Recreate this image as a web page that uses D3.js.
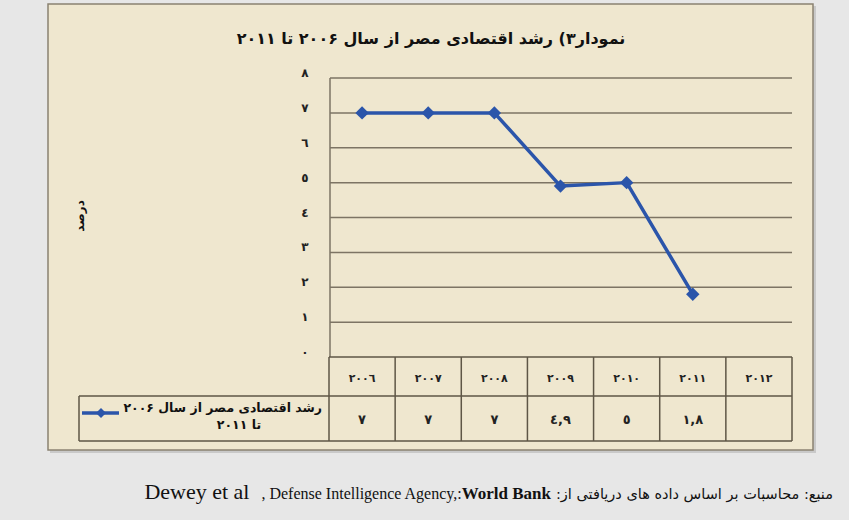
<!DOCTYPE html>
<html>
<head>
  <meta charset="utf-8">
  <title>Egypt growth</title>
  <script src="https://d3js.org/d3.v7.min.js"></script>
  <style>
    body {
      margin: 0;
      padding: 0;
      background-color: #e7e7e7;
    }
    .ar {
      font-family: "DejaVu Sans", sans-serif;
    }
    .grid line {
      stroke: #7d7464;
      stroke-width: 1.5;
    }
  </style>
</head>
<body>
  <div id="chart"></div>

  <script>
    // data
    var years = ["٢٠٠٦", "٢٠٠٧", "٢٠٠٨", "٢٠٠٩", "٢٠١٠", "٢٠١١", "٢٠١٢"];
    var values = [7, 7, 7, 4.9, 5, 1.8];
    var valueLabels = ["٧", "٧", "٧", "٤,٩", "٥", "١,٨", ""];
    var yTicks = [0, 1, 2, 3, 4, 5, 6, 7, 8];
    var yTickLabels = ["٠", "١", "٢", "٣", "٤", "٥", "٦", "٧", "٨"];

    var width = 849, height = 520;
    var blue = "#2b55aa";

    var svg = d3.select("#chart")
      .append("svg")
        .attr("width", width)
        .attr("height", height);

    // chart box
    svg.append("rect")
        .attr("x", 50).attr("y", 6)
        .attr("width", 766).attr("height", 447)
        .attr("fill", "#c9c9c9");
    svg.append("rect")
        .attr("x", 48).attr("y", 4)
        .attr("width", 765).attr("height", 446)
        .attr("fill", "#efe7cf")
        .attr("stroke", "#8b8272")
        .attr("stroke-width", 1.5);

    // title
    svg.append("text")
        .attr("class", "ar")
        .attr("x", 431).attr("y", 44)
        .attr("text-anchor", "middle")
        .attr("direction", "rtl")
        .style("font-size", "16px")
        .style("font-weight", "bold")
        .attr("fill", "#111")
        .text("نمودار۳) رشد اقتصادی مصر از سال ۲۰۰۶ تا ۲۰۱۱");

    var x = d3.scaleBand()
        .domain(years)
        .range([329, 792]);

    var y = d3.scaleLinear()
        .domain([0, 8])
        .range([357, 78]);

    // gridlines
    svg.append("g")
        .attr("class", "grid")
      .selectAll("line")
        .data(yTicks.slice(1))
      .enter().append("line")
        .attr("x1", 330).attr("x2", 792)
        .attr("y1", function(d) { return y(d); })
        .attr("y2", function(d) { return y(d); });

    // left axis line
    svg.append("line")
        .attr("x1", 330).attr("x2", 330)
        .attr("y1", y(8)).attr("y2", y(0))
        .attr("stroke", "#7d7464").attr("stroke-width", 1.5);

    // y tick labels
    svg.append("g")
      .selectAll("text")
        .data(yTicks)
      .enter().append("text")
        .attr("class", "ar")
        .attr("x", 305)
        .attr("y", function(d) { return y(d) - 1; })
        .attr("text-anchor", "middle")
        .style("font-size", "12px")
        .style("font-weight", "bold")
        .attr("fill", "#222")
        .text(function(d, i) { return yTickLabels[i]; });

    // y axis title
    svg.append("text")
        .attr("class", "ar")
        .attr("transform", "translate(80,216) rotate(-90)")
        .attr("text-anchor", "middle")
        .attr("dominant-baseline", "middle")
        .style("font-size", "12px")
        .style("font-weight", "bold")
        .attr("fill", "#111")
        .text("درصد");

    // data table
    var tLine = "#5e5646";
    var rowTop = y(0), rowMid = 396, rowBot = 441;
    var table = svg.append("g");
    table.append("line").attr("x1", 329).attr("x2", 792).attr("y1", rowTop).attr("y2", rowTop);
    table.append("line").attr("x1", 79).attr("x2", 792).attr("y1", rowMid).attr("y2", rowMid);
    table.append("line").attr("x1", 79).attr("x2", 792).attr("y1", rowBot).attr("y2", rowBot);
    table.append("line").attr("x1", 79).attr("x2", 79).attr("y1", rowMid).attr("y2", rowBot);
    table.selectAll(".vline")
        .data(years)
      .enter().append("line")
        .attr("class", "vline")
        .attr("x1", function(d) { return x(d); })
        .attr("x2", function(d) { return x(d); })
        .attr("y1", rowTop).attr("y2", rowBot);
    table.append("line").attr("x1", 792).attr("x2", 792).attr("y1", rowTop).attr("y2", rowBot);
    table.selectAll("line").attr("stroke", tLine).attr("stroke-width", 1.5);

    table.selectAll(".yr")
        .data(years)
      .enter().append("text")
        .attr("class", "ar yr")
        .attr("x", function(d) { return x(d) + x.bandwidth() / 2; })
        .attr("y", 382)
        .attr("text-anchor", "middle")
        .style("font-size", "11px")
        .style("font-weight", "bold")
        .attr("fill", "#222")
        .text(function(d) { return d; });

    table.selectAll(".val")
        .data(valueLabels)
      .enter().append("text")
        .attr("class", "ar val")
        .attr("x", function(d, i) { return x(years[i]) + x.bandwidth() / 2; })
        .attr("y", 424)
        .attr("text-anchor", "middle")
        .style("font-size", "13px")
        .style("font-weight", "bold")
        .attr("fill", "#222")
        .text(function(d) { return d; });

    // legend cell
    table.append("text")
        .attr("class", "ar")
        .attr("x", 322).attr("y", 412)
        .attr("text-anchor", "start")
        .attr("direction", "rtl")
        .style("font-size", "12.5px")
        .style("font-weight", "bold")
        .attr("fill", "#111")
        .text("رشد اقتصادی مصر از سال ۲۰۰۶");
    table.append("text")
        .attr("class", "ar")
        .attr("x", 239).attr("y", 429)
        .attr("text-anchor", "middle")
        .attr("direction", "rtl")
        .style("font-size", "12.5px")
        .style("font-weight", "bold")
        .attr("fill", "#111")
        .text("تا ۲۰۱۱");
    table.append("line")
        .attr("x1", 82).attr("x2", 119)
        .attr("y1", 413).attr("y2", 413)
        .attr("stroke", blue).attr("stroke-width", 3.5);
    table.append("path")
        .attr("d", d3.symbol(d3.symbolSquare, 50)())
        .attr("transform", "translate(101,413) rotate(45)")
        .attr("fill", blue);

    // the line and markers
    var line = d3.line()
        .x(function(d, i) { return x(years[i]) + x.bandwidth() / 2; })
        .y(function(d) { return y(d); });

    svg.append("path")
        .datum(values)
        .attr("d", line)
        .attr("fill", "none")
        .attr("stroke", blue)
        .attr("stroke-width", 3.5)
        .attr("stroke-linejoin", "round");

    svg.selectAll(".pt")
        .data(values)
      .enter().append("path")
        .attr("class", "pt")
        .attr("d", d3.symbol(d3.symbolSquare, 90)())
        .attr("transform", function(d, i) {
          return "translate(" + (x(years[i]) + x.bandwidth() / 2) + "," + y(d) + ") rotate(45)";
        })
        .attr("fill", blue);

    // source note, laid out right to left
    var foot = svg.append("g").style("font-family", "'Liberation Serif', 'DejaVu Serif', serif");
    var fy = 499;
    var parts = [
      { t: "منبع: محاسبات بر اساس داده های دریافتی از:", size: 14.5, bold: false, fam: "DejaVu Sans", rtl: true, gap: 5 },
      { t: "World Bank", size: 17, bold: true, gap: 0 },
      { t: ", Defense Intelligence Agency,:", size: 16, bold: false, gap: 12 },
      { t: "Dewey et al", size: 22, bold: false, gap: 0 }
    ];
    var xr = 833;
    parts.forEach(function(p) {
      var el = foot.append("text")
          .attr("y", fy)
          .style("font-size", p.size + "px")
          .style("font-weight", p.bold ? "bold" : "normal")
          .attr("fill", "#111")
          .text(p.t);
      if (p.fam) el.style("font-family", p.fam);
      if (p.rtl) {
        el.attr("direction", "rtl").attr("text-anchor", "start").attr("x", xr);
      } else {
        el.attr("text-anchor", "end").attr("x", xr);
      }
      xr -= el.node().getComputedTextLength() + p.gap;
    });
  </script>
</body>
</html>
